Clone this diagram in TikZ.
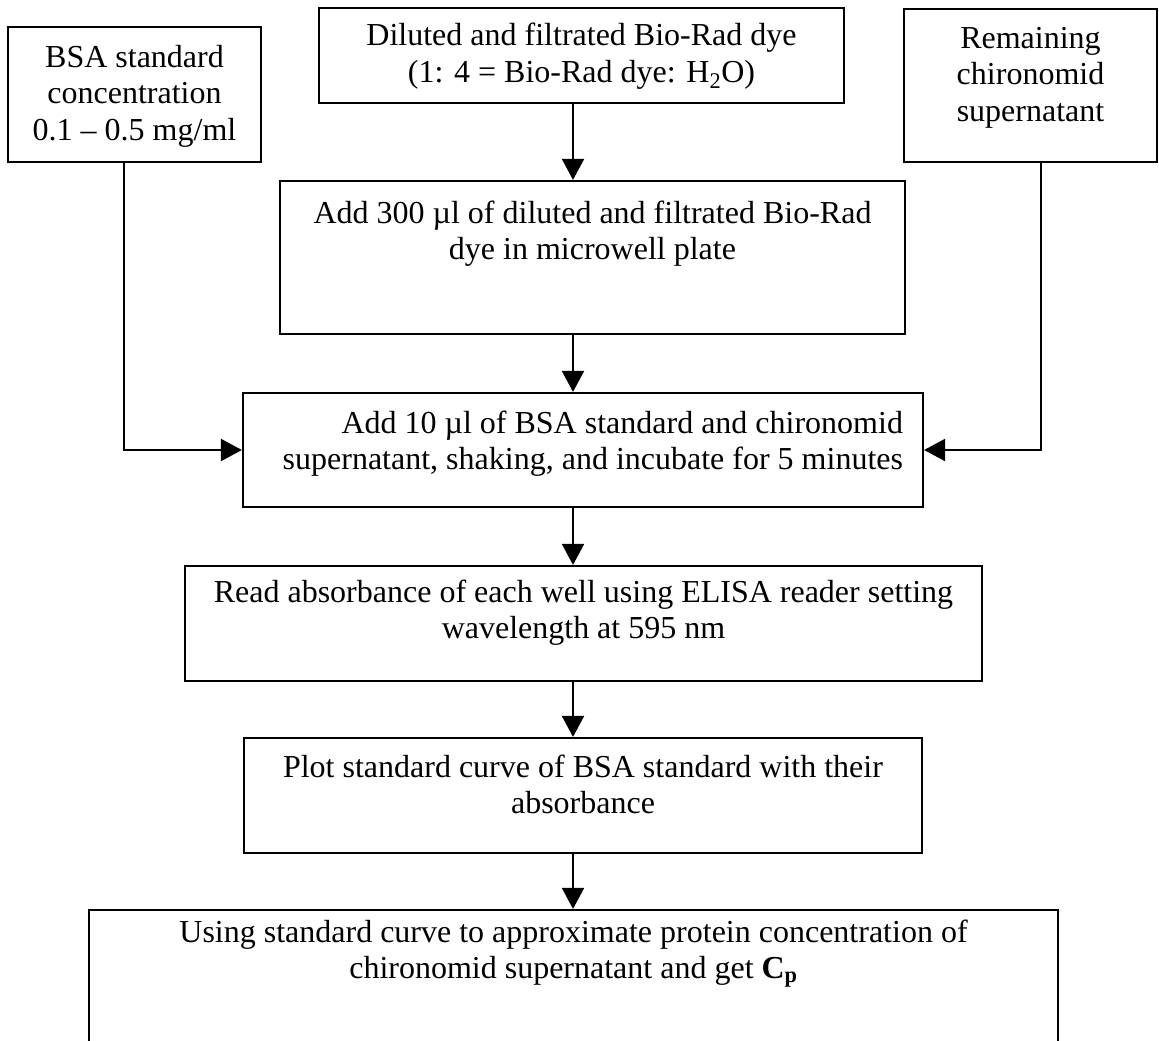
\documentclass[tikz,border=0pt]{standalone}
\usepackage{fontspec}
\setmainfont{Liberation Serif}
\usetikzlibrary{arrows.meta}
\newcommand\bxt[5]{\parbox[c][#1][t]{#2}{#3\rule{0pt}{#4}#5}}
\begin{document}
\begin{tikzpicture}[x=1pt,y=-1pt,
  box/.style={draw, line width=2.2pt, inner sep=0pt, font=\fontsize{32}{36.5}\selectfont},
  arr/.style={line width=2pt, -{Triangle[length=21pt,width=22pt]}}]
\useasboundingbox (0,0) rectangle (1159,1041);
\node[box] (bsa) at (134.5,94.5) {\bxt{135pt}{253pt}{\centering}{40pt}{BSA standard\\concentration\\0.1 – 0.5 mg/ml}};
\node[box] (dye) at (581.5,55.5) {\bxt{95pt}{525pt}{\centering}{38pt}{Diluted and filtrated Bio-Rad dye\\(1: 4 = Bio-Rad dye: H\textsubscript{2}O)}};
\node[box] (rem) at (1030.5,85.5) {\bxt{153pt}{253pt}{\centering}{39pt}{Remaining\\chironomid\\supernatant}};
\node[box] (add300) at (592.5,257.5) {\bxt{153pt}{625pt}{\centering}{42pt}{Add 300 µl of diluted and filtrated Bio-Rad\\dye in microwell plate}};
\node[box, inner xsep=20pt] (add10) at (583,450) {\bxt{114pt}{640pt}{\raggedleft}{40pt}{Add 10 µl of BSA standard and chironomid\\supernatant, shaking, and incubate for 5 minutes}};
\node[box] (read) at (583.5,623.5) {\bxt{115pt}{797pt}{\centering}{36pt}{Read absorbance of each well using ELISA reader setting\\wavelength at 595 nm}};
\node[box] (plot) at (583,795.5) {\bxt{115pt}{678pt}{\centering}{39pt}{Plot standard curve of BSA standard with their\\absorbance}};
\node[box] (using) at (573.5,995) {\bxt{170pt}{969pt}{\centering}{32pt}{Using standard curve to approximate protein concentration of\\chironomid supernatant and get \textbf{C\textsubscript{p}}}};
\coordinate (ax) at (573,0);
\coordinate (lx) at (124,0);
\coordinate (rx) at (1041,0);
\draw[arr] (dye.south -| ax) -- (add300.north -| ax);
\draw[arr] (add300.south -| ax) -- (add10.north -| ax);
\draw[arr] (bsa.south -| lx) |- (add10.west);
\draw[arr] (rem.south -| rx) |- (add10.east);
\draw[arr] (add10.south -| ax) -- (read.north -| ax);
\draw[arr] (read.south -| ax) -- (plot.north -| ax);
\draw[arr] (plot.south -| ax) -- (using.north -| ax);
\end{tikzpicture}
\end{document}
